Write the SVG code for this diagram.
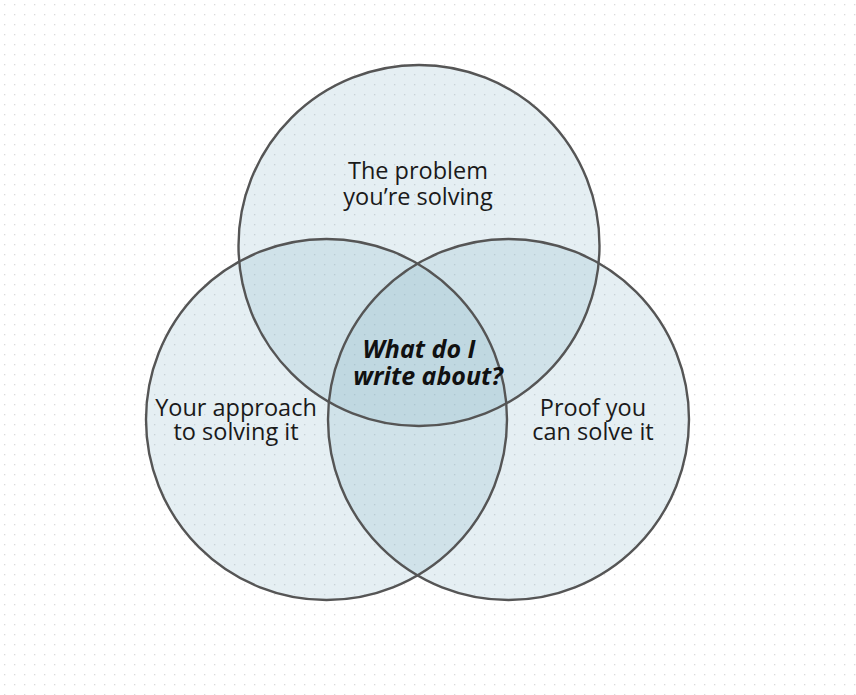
<svg xmlns="http://www.w3.org/2000/svg" width="856" height="695" viewBox="0 0 856 695">
  <defs>
    <pattern id="dots" x="0" y="0" width="10" height="10" patternUnits="userSpaceOnUse">
      <rect x="4" y="4" width="1.3" height="1.3" fill="#dadada"/>
    </pattern>
  </defs>
  <style>
    .c { fill: #86b2c8; fill-opacity: 0.21; stroke: none; }
    .o { fill: none; stroke: #555555; stroke-width: 2.4; }
    .t { font-family: "Open Sans", "Noto Sans", sans-serif; font-size: 23.5px; fill: #1a1a1a; text-anchor: middle; }
    .b { font-family: "Open Sans", "Noto Sans", sans-serif; font-size: 25px; font-weight: bold; font-style: italic; fill: #111111; text-anchor: middle; }
  </style>
  <rect width="856" height="695" fill="#ffffff"/>
  <rect width="856" height="695" fill="url(#dots)"/>
  <g id="fills">
    <circle class="c" cx="419" cy="245.5" r="180.5"/>
    <circle class="c" cx="326.5" cy="419.5" r="180.5"/>
    <circle class="c" cx="508.5" cy="419.5" r="180.5"/>
  </g>
  <g id="node-problem">
    <circle class="o" cx="419" cy="245.5" r="180.5"/>
    <text class="t" x="418" y="179">The problem</text>
    <text class="t" x="418" y="205">you’re solving</text>
  </g>
  <g id="node-approach">
    <circle class="o" cx="326.5" cy="419.5" r="180.5"/>
    <text class="t" x="236" y="416">Your approach</text>
    <text class="t" x="236" y="440">to solving it</text>
  </g>
  <g id="node-proof">
    <circle class="o" cx="508.5" cy="419.5" r="180.5"/>
    <text class="t" x="593" y="416">Proof you</text>
    <text class="t" x="593" y="440">can solve it</text>
  </g>
  <g id="node-center">
    <text class="b" x="419" y="358">What do I</text>
    <text class="b" x="428" y="385">write about?</text>
  </g>
  <g id="connectors"/>
</svg>
